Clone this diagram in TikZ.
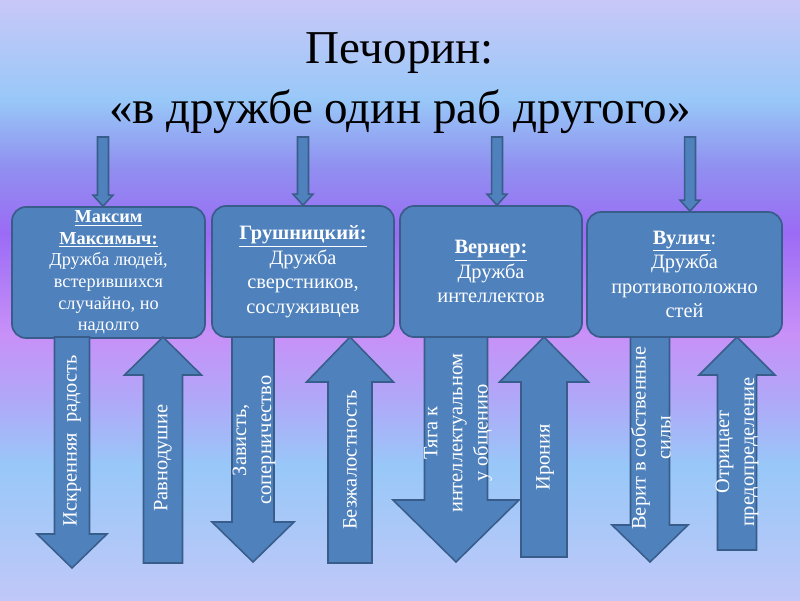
\documentclass[tikz,border=0pt]{standalone}
\usepackage{fontspec}
\setmainfont{Liberation Serif}
\usepackage{xcolor}
\definecolor{blue500}{HTML}{4F81BD}
\definecolor{blue700}{HTML}{385D8A}
\definecolor{bgtop}{HTML}{C8C8F8}
\definecolor{bgsky}{HTML}{98C8F8}
\definecolor{bgmid}{HTML}{9090F0}
\definecolor{bgviolet}{HTML}{9B6BF5}
\definecolor{bgpink}{HTML}{C890F8}
\definecolor{bglilac}{HTML}{B0A8F8}
\definecolor{bgbottom}{HTML}{C0C8F8}
\usepackage{tikz}
\usetikzlibrary{positioning, calc}

\pgfdeclareverticalshading{bgshade}{100bp}{color(0bp)=(bgbottom); color(25bp)=(bgbottom);
  color(36.1bp)=(bgsky); color(41.7bp)=(bglilac); color(47.2bp)=(bgpink);
  color(55.6bp)=(bgviolet); color(61.1bp)=(bgmid); color(66.7bp)=(bgsky);
  color(75bp)=(bgtop); color(100bp)=(bgtop)}

% block arrow: x, tail y, head base y, tip y, shaft half width, head half width (pixels)
\newcommand{\fatarrow}[6]{%
  \filldraw[blockarrow] ({#1-#5},#2) -- ({#1-#5},#3) -- ({#1-#6},#3) -- (#1,#4)
    -- ({#1+#6},#3) -- ({#1+#5},#3) -- ({#1+#5},#2) -- cycle;}

% thin block arrow from a tail point down to a node anchor
\newcommand{\feedarrow}[2]{%
  \filldraw[blockarrow] let \p1=(#1), \p2=(#2) in
    (\x2-3.9pt,\y1) -- (\x2-3.9pt,\y2+7.8pt) -- (\x2-7.1pt,\y2+7.8pt) -- (\x2,\y2)
    -- (\x2+7.1pt,\y2+7.8pt) -- (\x2+3.9pt,\y2+7.8pt) -- (\x2+3.9pt,\y1) -- cycle;}

\begin{document}
\begin{tikzpicture}[
    x=0.025cm, y=-0.025cm,
    blockarrow/.style={draw=blue700, fill=blue500, line width=1.1pt, line join=miter},
    card/.style={draw=blue700, fill=blue500, line width=1.2pt, rounded corners=10pt,
      text=white, align=center, inner sep=2pt, font=\fontsize{14.5}{17.5}\selectfont},
    arrowtext/.style={text=white, align=center, rotate=90, inner sep=0pt,
      font=\fontsize{14.5}{17.8}\selectfont}
]

% ── Background ──
\shade[shading=bgshade] (0,0) rectangle (800,600);
\useasboundingbox (0,0) rectangle (800,600);

% ── Title ──
\node[anchor=base, font=\fontsize{33.5}{40}\selectfont] (title) at (400,63) {Печорин:};
\node[anchor=base, font=\fontsize{33.5}{40}\selectfont] (subtitle) at (400,123) {«в дружбе один раб другого»};

% ── Characters ──
\node[card, minimum width=4.825cm, minimum height=3.275cm, font=\fontsize{13}{15.3}\selectfont]
  (maxim) at (108.5,272.5)
  {\underline{\textbf{Максим}}\\\underline{\textbf{Максимыч:}}\\Дружба людей,\\встерившихся\\случайно, но\\надолго};
\node[card, minimum width=4.55cm, minimum height=3.275cm] (grush) at (303,271.5)
  {\underline{\textbf{Грушницкий:}}\\Дружба\\сверстников,\\сослуживцев};
\node[card, minimum width=4.55cm, minimum height=3.275cm] (werner) at (491,271.5)
  {\underline{\textbf{Вернер:}}\\Дружба\\интеллектов};
\node[card, minimum width=4.875cm, minimum height=3.125cm] (vulich) at (684.5,274.5)
  {\underline{\textbf{Вулич}}:\\Дружба\\противоположно\\стей};

% ── Arrows into the cards ──
\coordinate (in1) at (103,137);
\coordinate (in2) at (303,137);
\coordinate (in3) at (497,137);
\coordinate (in4) at (690,137);
\feedarrow{in1}{maxim.north -| in1}
\feedarrow{in2}{grush.north -| in2}
\feedarrow{in3}{werner.north -| in3}
\feedarrow{in4}{vulich.north -| in4}

% ── Traits ──
\fatarrow{72}{337}{534}{568}{17.5}{35}
\fatarrow{163}{563}{375}{337}{19.5}{38.5}
\fatarrow{253}{337}{522}{562}{21}{41}
\fatarrow{350}{563}{382}{337}{22}{43.5}
\fatarrow{456}{337}{500}{562}{31.5}{63}
\fatarrow{544}{557}{382}{337}{23}{44.5}
\fatarrow{650}{337}{525}{562}{19.5}{38}
\fatarrow{737}{550}{375}{337}{19.5}{38}

\node[arrowtext] (joy) at (72,441) {Искренняя\ \ радость};
\node[arrowtext] (indiff) at (163,458) {Равнодушие};
\node[arrowtext] (envy) at (254,440) {Зависть,\\соперничество};
\node[arrowtext] (ruth) at (350,460) {Безжалостность};
\node[arrowtext] (intel) at (458,433) {Тяга к\\интеллектуальном\\у общению};
\node[arrowtext] (irony) at (545,457) {Ирония};
\node[arrowtext] (faith) at (651,438) {Верит в собственные\\силы};
\node[arrowtext] (fate) at (737,452) {Отрицает\\предопределение};
\end{tikzpicture}
\end{document}
